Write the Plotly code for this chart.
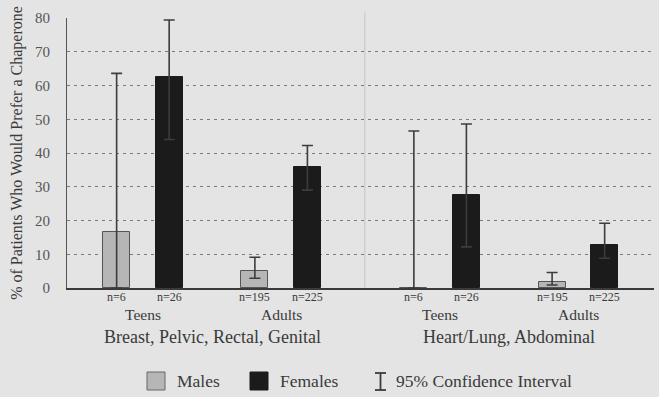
import plotly.graph_objects as go

# ---- data ----
groups = ["Teens", "Adults", "Teens", "Adults"]
sections = ["Breast, Pelvic, Rectal, Genital", "Heart/Lung, Abdominal"]
n_males = [6, 195, 6, 195]
n_females = [26, 225, 26, 225]
males = [16.7, 5.1, 0.0, 1.9]
females = [62.6, 35.9, 27.6, 12.7]
males_ci_low = [0.0, 2.9, 0.0, 0.9]
males_ci_high = [63.6, 9.1, 46.5, 4.6]
females_ci_low = [44.0, 29.0, 12.2, 8.8]
females_ci_high = [79.4, 42.2, 48.6, 19.2]
y_ticks = [0, 10, 20, 30, 40, 50, 60, 70, 80]
grid_vals = [10, 20, 30, 40, 50, 60, 70]

# ---- layout helpers ----
SECTION_GAP = 0.15
BAR_W = 0.195
SHIFT = 0.19
pos = [i + SECTION_GAP * (i // 2) for i in range(len(groups))]
xm = [p - SHIFT for p in pos]
xf = [p + SHIFT for p in pos]

W, H = 659, 397
ML, MR, MT, MB = 67, 5, 18, 109
PW, PH = W - ML - MR, H - MT - MB


def px(xp):
    return (xp - ML) / PW


def py(yp):
    return (H - MB - yp) / PH


SERIF = "Liberation Serif"
BG = "#e4e4e4"
TXT = "#3a3a3a"
ERR = "#3c3c3c"

fig = go.Figure()
# empty trace that only activates the grid axis (y2)
fig.add_trace(go.Scatter(x=[], y=[], yaxis="y2", showlegend=False,
                         hoverinfo="skip"))
fig.add_trace(go.Bar(
    x=xm, y=males, width=BAR_W, name="Males",
    marker=dict(color="#b6b6b6", line=dict(color="#555555", width=1)),
    error_y=dict(type="data", symmetric=False,
                 array=[h - v for h, v in zip(males_ci_high, males)],
                 arrayminus=[v - l for v, l in zip(males, males_ci_low)],
                 color=ERR, thickness=1.6, width=5.5),
))
fig.add_trace(go.Bar(
    x=xf, y=females, width=BAR_W, name="Females",
    marker=dict(color="#1b1b1b", line=dict(color="#1b1b1b", width=1)),
    error_y=dict(type="data", symmetric=False,
                 array=[h - v for h, v in zip(females_ci_high, females)],
                 arrayminus=[v - l for v, l in zip(females, females_ci_low)],
                 color=ERR, thickness=1.6, width=5.5),
))

annotations = []
# n labels
for xs, ns in ((xm, n_males), (xf, n_females)):
    for x, n in zip(xs, ns):
        annotations.append(dict(x=x, y=py(297), xref="x", yref="paper",
                                yanchor="middle",
                                text=f"n={n}", showarrow=False,
                                font=dict(family=SERIF, size=12, color=TXT)))
# group labels
for p, g in zip(pos, groups):
    annotations.append(dict(x=p, y=py(314), xref="x", yref="paper", text=g,
                            yanchor="middle", showarrow=False,
                            font=dict(family=SERIF, size=15.5, color=TXT)))
# section labels
for s_i, s in enumerate(sections):
    c = (pos[2 * s_i] + pos[2 * s_i + 1]) / 2
    annotations.append(dict(x=c, y=py(337), xref="x", yref="paper", text=s,
                            yanchor="middle", showarrow=False,
                            font=dict(family=SERIF, size=18, color=TXT)))

# custom legend
shapes = []
LEG_Y = 381
shapes.append(dict(type="rect", xref="paper", yref="paper",
                   x0=px(147), x1=px(165), y0=py(390), y1=py(372),
                   fillcolor="#b6b6b6", line=dict(color="#666666", width=1)))
shapes.append(dict(type="rect", xref="paper", yref="paper",
                   x0=px(250), x1=px(268), y0=py(390), y1=py(372),
                   fillcolor="#1b1b1b", line=dict(color="#1b1b1b", width=1)))
# CI symbol
shapes.append(dict(type="line", xref="paper", yref="paper",
                   x0=px(380.5), x1=px(380.5), y0=py(390), y1=py(373),
                   line=dict(color=ERR, width=1.8)))
for yy in (373, 390):
    shapes.append(dict(type="line", xref="paper", yref="paper",
                       x0=px(375), x1=px(386), y0=py(yy), y1=py(yy),
                       line=dict(color=ERR, width=1.8)))
for xx, t in ((175, "Males"), (278, "Females"), (394, "95% Confidence Interval")):
    annotations.append(dict(x=px(xx), y=py(LEG_Y), xref="paper", yref="paper",
                            text=t, showarrow=False, xanchor="left",
                            yanchor="middle",
                            font=dict(family=SERIF, size=17.5, color=TXT)))

# section divider
div_x = (pos[1] + pos[2]) / 2 + 0.03
shapes.append(dict(type="line", xref="x", yref="paper", x0=div_x, x1=div_x,
                   y0=0, y1=1.02, line=dict(color="#c4c4c4", width=1),
                   layer="below"))

fig.update_layout(
    width=W, height=H,
    margin=dict(l=ML, r=MR, t=MT, b=MB),
    paper_bgcolor=BG, plot_bgcolor=BG,
    showlegend=False,
    bargap=0,
    annotations=annotations,
    shapes=shapes,
    xaxis=dict(range=[pos[0] - 0.549, pos[-1] + 0.547], showgrid=False,
               zeroline=False, showticklabels=False, ticks="",
               showline=True, linecolor="#3a3a3a", linewidth=1.5),
    yaxis=dict(range=[0, 80], tickvals=y_ticks, showgrid=False,
               zeroline=False, showline=True, linecolor="#555555",
               linewidth=1, ticks="", ticklabelstandoff=13,
               tickfont=dict(family=SERIF, size=15, color="#555555"),
               title=dict(text="% of Patients Who Would Prefer a Chaperone",
                          font=dict(family=SERIF, size=16, color=TXT),
                          standoff=8)),
    yaxis2=dict(range=[0, 80], overlaying="y", side="left", anchor="x",
                tickvals=grid_vals, showticklabels=False, ticks="",
                showgrid=True, gridcolor="#7a7a7a", griddash="3px,4px",
                gridwidth=1, zeroline=False, showline=False),
)

fig.write_html("out.html",
               config={"displayModeBar": False},
               post_script="document.body.style.margin='0';"
                           "document.body.style.background='" + BG + "';")
